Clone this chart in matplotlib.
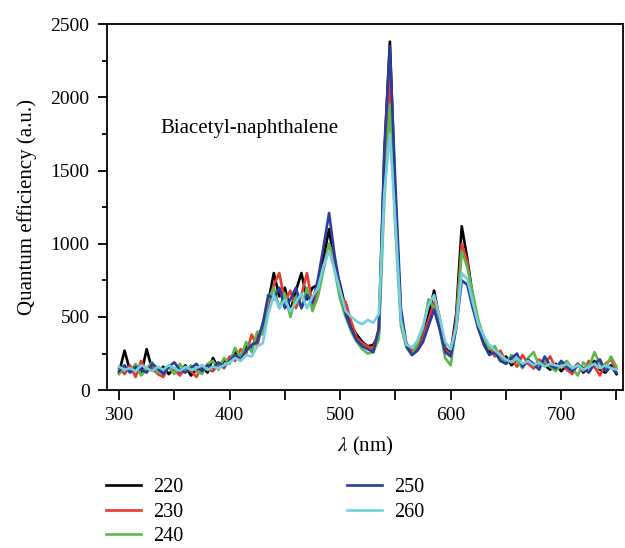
import matplotlib.pyplot as plt
import numpy as np
from matplotlib.ticker import MultipleLocator

plt.rcParams['font.family'] = ['Liberation Serif', 'DejaVu Serif']
plt.rcParams['mathtext.fontset'] = 'stix'

# wavelength grid (nm), 5 nm steps
wavelength = np.arange(300, 751, 5)

# values, per excitation wavelength
s220 = [120, 270, 130, 150, 110, 280, 140, 120, 160, 110, 150, 120, 170, 100, 140, 160, 120, 220, 150, 200,
        210, 260, 230, 300, 280, 380, 420, 600, 800, 640, 700, 540, 680, 800, 620, 700, 720, 900, 1100, 860,
        720, 560, 430, 380, 330, 300, 310, 380, 1600, 2380, 1300, 480, 300, 250, 290, 380, 520, 680, 480, 290,
        250, 520, 1120, 900, 640, 460, 330, 260, 280, 200, 230, 170, 210, 160, 200, 150, 190, 170, 140, 180,
        130, 170, 140, 180, 120, 160, 200, 140, 120, 170, 110]
s230 = [150, 110, 170, 90, 200, 130, 160, 110, 90, 170, 140, 100, 150, 130, 90, 170, 140, 130, 180, 150,
        230, 200, 280, 250, 380, 300, 460, 560, 720, 800, 600, 680, 560, 650, 800, 580, 680, 850, 1000, 900,
        650, 600, 470, 360, 320, 300, 280, 420, 1450, 2150, 1250, 520, 320, 270, 280, 360, 480, 600, 500, 280,
        240, 480, 1000, 880, 600, 420, 340, 300, 230, 270, 190, 220, 160, 240, 180, 150, 210, 180, 230, 150,
        190, 140, 110, 180, 130, 200, 160, 100, 180, 210, 140]
s240 = [110, 160, 130, 180, 100, 150, 190, 120, 130, 160, 110, 180, 120, 170, 130, 110, 180, 200, 140, 220,
        180, 290, 220, 330, 260, 400, 380, 620, 700, 560, 660, 500, 640, 560, 700, 540, 640, 820, 1000, 820,
        620, 500, 400, 330, 280, 250, 260, 350, 1300, 1950, 1100, 440, 290, 240, 320, 420, 620, 560, 420, 220,
        170, 450, 950, 840, 660, 480, 360, 280, 300, 220, 180, 240, 200, 150, 220, 260, 170, 200, 160, 130,
        170, 200, 150, 100, 190, 150, 260, 180, 150, 230, 160]
s250 = [130, 170, 120, 160, 140, 120, 180, 150, 110, 160, 190, 140, 120, 150, 180, 130, 170, 150, 190, 160,
        200, 240, 210, 270, 310, 330, 450, 650, 620, 700, 560, 620, 700, 560, 650, 600, 760, 980, 1210, 920,
        700, 520, 420, 340, 300, 280, 260, 420, 1650, 2350, 1400, 560, 300, 240, 270, 330, 440, 550, 420, 260,
        230, 420, 750, 720, 560, 420, 310, 240, 260, 200, 180, 220, 250, 160, 210, 180, 140, 230, 170, 150,
        200, 160, 130, 170, 150, 120, 180, 210, 130, 160, 120]
s260 = [160, 140, 150, 130, 170, 150, 130, 160, 140, 170, 150, 130, 160, 140, 150, 170, 140, 160, 150, 170,
        190, 220, 200, 240, 230, 300, 320, 520, 650, 560, 620, 540, 600, 660, 560, 640, 700, 850, 950, 820,
        680, 540, 500, 470, 450, 480, 460, 520, 1350, 1750, 1150, 480, 310, 290, 340, 440, 580, 650, 500, 330,
        280, 430, 800, 760, 600, 450, 370, 310, 270, 240, 210, 190, 220, 180, 200, 170, 190, 160, 180, 170,
        160, 180, 150, 170, 140, 160, 180, 150, 170, 150, 140]

labels = ['220', '230', '240', '250', '260']
series = [s220, s230, s240, s250, s260]
colors = ['#000000', '#e8392e', '#5cb84e', '#2a3c9c', '#72cfe0']

fig = plt.figure(figsize=(6.25, 5.48), dpi=100)
ax = fig.add_axes([0.171, 0.288, 0.826, 0.668])

for lab, vals, c in zip(labels, series, colors):
    ax.plot(wavelength, vals, color=c, lw=1.9, label=lab)

ax.set_xlim(289, 756)
ax.set_ylim(0, 2500)
ax.xaxis.set_major_locator(MultipleLocator(100))
ax.xaxis.set_minor_locator(MultipleLocator(50))
ax.yaxis.set_major_locator(MultipleLocator(500))
ax.yaxis.set_minor_locator(MultipleLocator(250))
ax.tick_params(which='both', direction='out', width=1.3, labelsize=14)
ax.tick_params(axis='x', which='both', length=7, pad=5)
ax.tick_params(axis='y', which='major', length=6.5, pad=6)
ax.tick_params(axis='y', which='minor', length=3.3)
for sp in ax.spines.values():
    sp.set_linewidth(1.3)

ax.set_xlabel(r'$\it{\lambda}$ (nm)', fontsize=15, labelpad=8)
ax.set_ylabel('Quantum efficiency (a.u.)', fontsize=15, labelpad=10)
ax.text(418, 1790, 'Biacetyl-naphthalene', fontsize=15, ha='center', va='center')

fig.legend(loc='upper left', bbox_to_anchor=(0.170, 0.128), ncol=2, frameon=False,
           fontsize=14.5, handlelength=1.75, handletextpad=0.6, columnspacing=8.1,
           labelspacing=0.28, borderaxespad=0, borderpad=0)

fig.savefig('out.png', dpi=100)
